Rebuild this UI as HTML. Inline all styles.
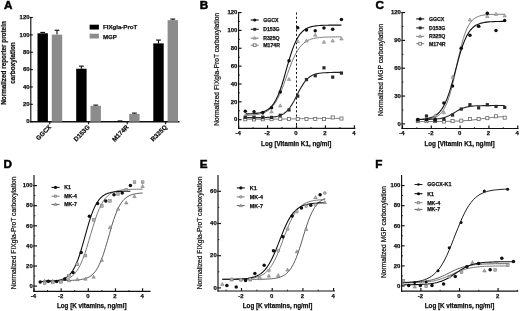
<!DOCTYPE html>
<html><head><meta charset="utf-8"><title>Figure</title>
<style>html,body{margin:0;padding:0;background:#fff}svg{display:block;filter:blur(0.3px)}</style></head>
<body>
<svg width="520" height="311" viewBox="0 0 520 311" font-family="Liberation Sans, Arial, sans-serif" font-weight="bold">
<rect width="520" height="311" fill="#fff"/>
<text x="3.90" y="9.30" font-size="11.7" text-anchor="start" fill="#000" stroke="#000" stroke-width="0.5">A</text>
<text x="199.70" y="8.70" font-size="11.7" text-anchor="start" fill="#000" stroke="#000" stroke-width="0.5">B</text>
<text x="375.50" y="8.90" font-size="11.7" text-anchor="start" fill="#000" stroke="#000" stroke-width="0.5">C</text>
<text x="3.40" y="167.60" font-size="11.7" text-anchor="start" fill="#000" stroke="#000" stroke-width="0.5">D</text>
<text x="199.80" y="167.50" font-size="11.7" text-anchor="start" fill="#000" stroke="#000" stroke-width="0.5">E</text>
<text x="375.30" y="167.50" font-size="11.7" text-anchor="start" fill="#000" stroke="#000" stroke-width="0.5">F</text>
<line x1="30.80" y1="16.93" x2="30.80" y2="122.28" stroke="#111" stroke-width="1.15"/>
<line x1="29.80" y1="121.70" x2="32.80" y2="121.70" stroke="#111" stroke-width="1.15"/>
<text x="29.50" y="123.45" font-size="5.95" text-anchor="end" fill="#111" stroke="#111" stroke-width="0.25">0</text>
<line x1="29.80" y1="104.33" x2="32.80" y2="104.33" stroke="#111" stroke-width="1.15"/>
<text x="29.50" y="106.08" font-size="5.95" text-anchor="end" fill="#111" stroke="#111" stroke-width="0.25">20</text>
<line x1="29.80" y1="86.97" x2="32.80" y2="86.97" stroke="#111" stroke-width="1.15"/>
<text x="29.50" y="88.72" font-size="5.95" text-anchor="end" fill="#111" stroke="#111" stroke-width="0.25">40</text>
<line x1="29.80" y1="69.60" x2="32.80" y2="69.60" stroke="#111" stroke-width="1.15"/>
<text x="29.50" y="71.35" font-size="5.95" text-anchor="end" fill="#111" stroke="#111" stroke-width="0.25">60</text>
<line x1="29.80" y1="52.24" x2="32.80" y2="52.24" stroke="#111" stroke-width="1.15"/>
<text x="29.50" y="53.99" font-size="5.95" text-anchor="end" fill="#111" stroke="#111" stroke-width="0.25">80</text>
<line x1="29.80" y1="34.87" x2="32.80" y2="34.87" stroke="#111" stroke-width="1.15"/>
<text x="29.50" y="36.62" font-size="5.95" text-anchor="end" fill="#111" stroke="#111" stroke-width="0.25">100</text>
<line x1="29.80" y1="17.50" x2="32.80" y2="17.50" stroke="#111" stroke-width="1.15"/>
<text x="29.50" y="19.25" font-size="5.95" text-anchor="end" fill="#111" stroke="#111" stroke-width="0.25">120</text>
<line x1="30.23" y1="121.70" x2="179.50" y2="121.70" stroke="#111" stroke-width="1.4"/>
<line x1="49.80" y1="121.70" x2="49.80" y2="124.30" stroke="#111" stroke-width="1.15"/>
<line x1="42.70" y1="33.31" x2="42.70" y2="32.44" stroke="#111" stroke-width="1.15"/>
<line x1="40.30" y1="32.44" x2="45.10" y2="32.44" stroke="#111" stroke-width="1.15"/>
<rect x="37.50" y="33.31" width="10.4" height="88.39" fill="#000"/>
<line x1="57.00" y1="34.61" x2="57.00" y2="30.27" stroke="#111" stroke-width="1.15"/>
<line x1="54.60" y1="30.27" x2="59.40" y2="30.27" stroke="#111" stroke-width="1.15"/>
<rect x="51.80" y="34.61" width="10.4" height="87.09" fill="#8c8c8c"/>
<text x="51.60" y="127.60" font-size="6.3" text-anchor="end" fill="#111" stroke="#111" stroke-width="0.25" transform="rotate(-45 51.60 127.60)">GGCX</text>
<line x1="88.50" y1="121.70" x2="88.50" y2="124.30" stroke="#111" stroke-width="1.15"/>
<line x1="81.40" y1="68.73" x2="81.40" y2="66.13" stroke="#111" stroke-width="1.15"/>
<line x1="79.00" y1="66.13" x2="83.80" y2="66.13" stroke="#111" stroke-width="1.15"/>
<rect x="76.20" y="68.73" width="10.4" height="52.97" fill="#000"/>
<line x1="95.70" y1="105.81" x2="95.70" y2="105.12" stroke="#111" stroke-width="1.15"/>
<line x1="93.30" y1="105.12" x2="98.10" y2="105.12" stroke="#111" stroke-width="1.15"/>
<rect x="90.50" y="105.81" width="10.4" height="15.89" fill="#8c8c8c"/>
<text x="90.30" y="127.60" font-size="6.3" text-anchor="end" fill="#111" stroke="#111" stroke-width="0.25" transform="rotate(-45 90.30 127.60)">D153G</text>
<line x1="127.20" y1="121.70" x2="127.20" y2="124.30" stroke="#111" stroke-width="1.15"/>
<line x1="120.10" y1="121.18" x2="120.10" y2="120.92" stroke="#111" stroke-width="1.15"/>
<line x1="117.70" y1="120.92" x2="122.50" y2="120.92" stroke="#111" stroke-width="1.15"/>
<rect x="114.90" y="121.18" width="10.4" height="0.52" fill="#000"/>
<line x1="134.40" y1="113.89" x2="134.40" y2="113.10" stroke="#111" stroke-width="1.15"/>
<line x1="132.00" y1="113.10" x2="136.80" y2="113.10" stroke="#111" stroke-width="1.15"/>
<rect x="129.20" y="113.89" width="10.4" height="7.81" fill="#8c8c8c"/>
<text x="129.00" y="127.60" font-size="6.3" text-anchor="end" fill="#111" stroke="#111" stroke-width="0.25" transform="rotate(-45 129.00 127.60)">M174R</text>
<line x1="165.60" y1="121.70" x2="165.60" y2="124.30" stroke="#111" stroke-width="1.15"/>
<line x1="158.50" y1="43.38" x2="158.50" y2="40.08" stroke="#111" stroke-width="1.15"/>
<line x1="156.10" y1="40.08" x2="160.90" y2="40.08" stroke="#111" stroke-width="1.15"/>
<rect x="153.30" y="43.38" width="10.4" height="78.32" fill="#000"/>
<line x1="172.80" y1="20.11" x2="172.80" y2="19.07" stroke="#111" stroke-width="1.15"/>
<line x1="170.40" y1="19.07" x2="175.20" y2="19.07" stroke="#111" stroke-width="1.15"/>
<rect x="167.60" y="20.11" width="10.4" height="101.59" fill="#8c8c8c"/>
<text x="167.40" y="127.60" font-size="6.3" text-anchor="end" fill="#111" stroke="#111" stroke-width="0.25" transform="rotate(-45 167.40 127.60)">R325Q</text>
<rect x="89.6" y="24.7" width="9.3" height="4.8" fill="#000"/>
<rect x="89.6" y="33.7" width="9.3" height="4.8" fill="#8c8c8c"/>
<text x="103.00" y="29.00" font-size="6.1" text-anchor="start" fill="#111" stroke="#111" stroke-width="0.25">FIXgla-ProT</text>
<text x="103.00" y="38.60" font-size="6.1" text-anchor="start" fill="#111" stroke="#111" stroke-width="0.25">MGP</text>
<text x="6.20" y="63.00" font-size="6.35" text-anchor="middle" fill="#111" stroke="#111" stroke-width="0.25" transform="rotate(-90 6.20 63.00)">Normalized reporter protein</text>
<text x="14.90" y="63.00" font-size="6.4" text-anchor="middle" fill="#111" stroke="#111" stroke-width="0.25" transform="rotate(-90 14.90 63.00)">carboxylation</text>
<line x1="296.50" y1="12.50" x2="296.50" y2="128.30" stroke="#111" stroke-width="1.0" stroke-dasharray="2.1 2.15"/>
<polyline points="245.8,119.2 247.8,119.2 249.8,119.2 251.8,119.2 253.8,119.2 255.8,119.2 257.8,119.2 259.8,119.2 261.8,119.2 263.8,119.2 265.7,119.2 267.7,119.2 269.7,119.2 271.7,119.1 273.7,119.1 275.7,119.1 277.7,119.1 279.7,119.1 281.7,119.1 283.7,119.1 285.6,119.0 287.6,119.0 289.6,119.0 291.6,118.9 293.6,118.9 295.6,118.8 297.6,118.7 299.6,118.7 301.6,118.6 303.6,118.6 305.5,118.5 307.5,118.5 309.5,118.5 311.5,118.4 313.5,118.4 315.5,118.4 317.5,118.4 319.5,118.4 321.5,118.4 323.5,118.4 325.4,118.4 327.4,118.4 329.4,118.4 331.4,118.4 333.4,118.4 335.4,118.4 337.4,118.4 339.4,118.4 341.4,118.4" fill="none" stroke="#747474" stroke-width="0.95" stroke-linejoin="round"/>
<polyline points="245.8,115.5 247.8,115.4 249.8,115.3 251.8,115.1 253.8,115.0 255.8,114.7 257.8,114.4 259.8,114.0 261.8,113.5 263.8,112.8 265.7,111.9 267.7,110.8 269.7,109.3 271.7,107.4 273.7,105.0 275.7,102.1 277.7,98.6 279.7,94.5 281.7,89.8 283.7,84.6 285.6,79.1 287.6,73.5 289.6,68.0 291.6,62.8 293.6,58.1 295.6,54.0 297.6,50.5 299.6,47.5 301.6,45.2 303.6,43.3 305.5,41.8 307.5,40.6 309.5,39.7 311.5,39.0 313.5,38.5 315.5,38.1 317.5,37.8 319.5,37.5 321.5,37.4 323.5,37.2 325.4,37.1 327.4,37.1 329.4,37.0 331.4,37.0 333.4,36.9 335.4,36.9 337.4,36.9 339.4,36.9 341.4,36.9" fill="none" stroke="#747474" stroke-width="0.95" stroke-linejoin="round"/>
<polyline points="245.8,117.6 247.8,117.6 249.8,117.6 251.8,117.6 253.8,117.6 255.8,117.6 257.8,117.6 259.8,117.6 261.8,117.6 263.8,117.5 265.7,117.5 267.7,117.4 269.7,117.3 271.7,117.1 273.7,116.9 275.7,116.6 277.7,116.2 279.7,115.6 281.7,114.8 283.7,113.7 285.6,112.3 287.6,110.4 289.6,108.0 291.6,105.1 293.6,101.7 295.6,97.9 297.6,94.0 299.6,90.1 301.6,86.6 303.6,83.4 305.5,80.8 307.5,78.6 309.5,77.0 311.5,75.7 313.5,74.8 315.5,74.1 317.5,73.6 319.5,73.3 321.5,73.0 323.5,72.8 325.4,72.7 327.4,72.6 329.4,72.5 331.4,72.5 333.4,72.4 335.4,72.4 337.4,72.4 339.4,72.4 341.4,72.4" fill="none" stroke="#222" stroke-width="1.1" stroke-linejoin="round"/>
<polyline points="245.8,113.9 247.8,113.9 249.8,113.8 251.8,113.7 253.8,113.6 255.8,113.4 257.8,113.1 259.8,112.8 261.8,112.3 263.8,111.7 265.7,110.8 267.7,109.7 269.7,108.2 271.7,106.2 273.7,103.6 275.7,100.3 277.7,96.2 279.7,91.2 281.7,85.5 283.7,79.0 285.6,72.1 287.6,65.1 289.6,58.3 291.6,52.0 293.6,46.4 295.6,41.7 297.6,37.8 299.6,34.7 301.6,32.3 303.6,30.5 305.5,29.1 307.5,28.0 309.5,27.2 311.5,26.6 313.5,26.2 315.5,25.9 317.5,25.7 319.5,25.5 321.5,25.4 323.5,25.3 325.4,25.2 327.4,25.2 329.4,25.1 331.4,25.1 333.4,25.1 335.4,25.1 337.4,25.1 339.4,25.1 341.4,25.1" fill="none" stroke="#111" stroke-width="1.1" stroke-linejoin="round"/>
<rect x="243.75" y="117.70" width="3.1" height="3.1" fill="#fff" stroke="#666" stroke-width="0.8"/>
<rect x="252.49" y="117.88" width="3.1" height="3.1" fill="#fff" stroke="#666" stroke-width="0.8"/>
<rect x="261.23" y="117.70" width="3.1" height="3.1" fill="#fff" stroke="#666" stroke-width="0.8"/>
<rect x="269.97" y="117.61" width="3.1" height="3.1" fill="#fff" stroke="#666" stroke-width="0.8"/>
<rect x="278.71" y="117.44" width="3.1" height="3.1" fill="#fff" stroke="#666" stroke-width="0.8"/>
<rect x="287.45" y="117.44" width="3.1" height="3.1" fill="#fff" stroke="#666" stroke-width="0.8"/>
<rect x="296.19" y="117.44" width="3.1" height="3.1" fill="#fff" stroke="#666" stroke-width="0.8"/>
<rect x="304.93" y="117.44" width="3.1" height="3.1" fill="#fff" stroke="#666" stroke-width="0.8"/>
<rect x="313.67" y="117.44" width="3.1" height="3.1" fill="#fff" stroke="#666" stroke-width="0.8"/>
<rect x="322.41" y="117.52" width="3.1" height="3.1" fill="#fff" stroke="#666" stroke-width="0.8"/>
<rect x="331.15" y="115.92" width="3.1" height="3.1" fill="#fff" stroke="#666" stroke-width="0.8"/>
<rect x="339.89" y="116.99" width="3.1" height="3.1" fill="#fff" stroke="#666" stroke-width="0.8"/>
<polygon points="245.30,113.52 243.55,116.67 247.05,116.67" fill="#b0b0b0" stroke="#707070" stroke-width="0.45"/>
<polygon points="254.04,113.52 252.29,116.67 255.79,116.67" fill="#b0b0b0" stroke="#707070" stroke-width="0.45"/>
<polygon points="262.78,113.34 261.03,116.50 264.53,116.50" fill="#b0b0b0" stroke="#707070" stroke-width="0.45"/>
<polygon points="271.52,109.86 269.77,113.01 273.27,113.01" fill="#b0b0b0" stroke="#707070" stroke-width="0.45"/>
<polygon points="280.26,103.79 278.51,106.94 282.01,106.94" fill="#b0b0b0" stroke="#707070" stroke-width="0.45"/>
<polygon points="289.00,77.36 287.25,80.51 290.75,80.51" fill="#b0b0b0" stroke="#707070" stroke-width="0.45"/>
<polygon points="297.74,39.49 295.99,42.64 299.49,42.64" fill="#b0b0b0" stroke="#707070" stroke-width="0.45"/>
<polygon points="306.48,38.96 304.73,42.11 308.23,42.11" fill="#b0b0b0" stroke="#707070" stroke-width="0.45"/>
<polygon points="315.22,33.15 313.47,36.30 316.97,36.30" fill="#b0b0b0" stroke="#707070" stroke-width="0.45"/>
<polygon points="323.96,40.21 322.21,43.36 325.71,43.36" fill="#b0b0b0" stroke="#707070" stroke-width="0.45"/>
<polygon points="332.70,38.96 330.95,42.11 334.45,42.11" fill="#b0b0b0" stroke="#707070" stroke-width="0.45"/>
<polygon points="341.44,36.90 339.69,40.05 343.19,40.05" fill="#b0b0b0" stroke="#707070" stroke-width="0.45"/>
<rect x="243.70" y="115.78" width="3.2" height="3.2" fill="#2a2a2a" stroke="#2a2a2a" stroke-width="0"/>
<rect x="252.44" y="115.96" width="3.2" height="3.2" fill="#2a2a2a" stroke="#2a2a2a" stroke-width="0"/>
<rect x="261.18" y="115.96" width="3.2" height="3.2" fill="#2a2a2a" stroke="#2a2a2a" stroke-width="0"/>
<rect x="269.92" y="115.78" width="3.2" height="3.2" fill="#2a2a2a" stroke="#2a2a2a" stroke-width="0"/>
<rect x="278.66" y="113.64" width="3.2" height="3.2" fill="#2a2a2a" stroke="#2a2a2a" stroke-width="0"/>
<rect x="287.40" y="108.37" width="3.2" height="3.2" fill="#2a2a2a" stroke="#2a2a2a" stroke-width="0"/>
<rect x="296.14" y="94.52" width="3.2" height="3.2" fill="#2a2a2a" stroke="#2a2a2a" stroke-width="0"/>
<rect x="304.88" y="78.00" width="3.2" height="3.2" fill="#2a2a2a" stroke="#2a2a2a" stroke-width="0"/>
<rect x="313.62" y="74.16" width="3.2" height="3.2" fill="#2a2a2a" stroke="#2a2a2a" stroke-width="0"/>
<rect x="322.36" y="66.22" width="3.2" height="3.2" fill="#2a2a2a" stroke="#2a2a2a" stroke-width="0"/>
<rect x="331.10" y="75.50" width="3.2" height="3.2" fill="#2a2a2a" stroke="#2a2a2a" stroke-width="0"/>
<rect x="339.84" y="71.49" width="3.2" height="3.2" fill="#2a2a2a" stroke="#2a2a2a" stroke-width="0"/>
<circle cx="245.30" cy="111.22" r="1.75" fill="#111" stroke="#111" stroke-width="0"/>
<circle cx="254.04" cy="111.75" r="1.75" fill="#111" stroke="#111" stroke-width="0"/>
<circle cx="262.78" cy="112.56" r="1.75" fill="#111" stroke="#111" stroke-width="0"/>
<circle cx="271.52" cy="107.73" r="1.75" fill="#111" stroke="#111" stroke-width="0"/>
<circle cx="280.26" cy="92.11" r="1.75" fill="#111" stroke="#111" stroke-width="0"/>
<circle cx="289.00" cy="60.76" r="1.75" fill="#111" stroke="#111" stroke-width="0"/>
<circle cx="297.74" cy="27.72" r="1.75" fill="#111" stroke="#111" stroke-width="0"/>
<circle cx="306.48" cy="30.04" r="1.75" fill="#111" stroke="#111" stroke-width="0"/>
<circle cx="315.22" cy="30.76" r="1.75" fill="#111" stroke="#111" stroke-width="0"/>
<circle cx="323.96" cy="28.08" r="1.75" fill="#111" stroke="#111" stroke-width="0"/>
<circle cx="332.70" cy="29.24" r="1.75" fill="#111" stroke="#111" stroke-width="0"/>
<circle cx="341.44" cy="19.51" r="1.75" fill="#111" stroke="#111" stroke-width="0"/>
<line x1="238.60" y1="11.93" x2="238.60" y2="128.88" stroke="#111" stroke-width="1.15"/>
<line x1="238.00" y1="119.70" x2="241.60" y2="119.70" stroke="#111" stroke-width="1.15"/>
<text x="237.30" y="121.45" font-size="5.95" text-anchor="end" fill="#111" stroke="#111" stroke-width="0.25">0</text>
<line x1="238.00" y1="101.84" x2="241.60" y2="101.84" stroke="#111" stroke-width="1.15"/>
<text x="237.30" y="103.59" font-size="5.95" text-anchor="end" fill="#111" stroke="#111" stroke-width="0.25">20</text>
<line x1="238.00" y1="83.98" x2="241.60" y2="83.98" stroke="#111" stroke-width="1.15"/>
<text x="237.30" y="85.73" font-size="5.95" text-anchor="end" fill="#111" stroke="#111" stroke-width="0.25">40</text>
<line x1="238.00" y1="66.12" x2="241.60" y2="66.12" stroke="#111" stroke-width="1.15"/>
<text x="237.30" y="67.87" font-size="5.95" text-anchor="end" fill="#111" stroke="#111" stroke-width="0.25">60</text>
<line x1="238.00" y1="48.26" x2="241.60" y2="48.26" stroke="#111" stroke-width="1.15"/>
<text x="237.30" y="50.01" font-size="5.95" text-anchor="end" fill="#111" stroke="#111" stroke-width="0.25">80</text>
<line x1="238.00" y1="30.40" x2="241.60" y2="30.40" stroke="#111" stroke-width="1.15"/>
<text x="237.30" y="32.15" font-size="5.95" text-anchor="end" fill="#111" stroke="#111" stroke-width="0.25">100</text>
<line x1="238.00" y1="12.54" x2="241.60" y2="12.54" stroke="#111" stroke-width="1.15"/>
<text x="237.30" y="14.29" font-size="5.95" text-anchor="end" fill="#111" stroke="#111" stroke-width="0.25">120</text>
<line x1="238.60" y1="110.77" x2="239.90" y2="110.77" stroke="#111" stroke-width="0.9199999999999999"/>
<line x1="238.60" y1="92.91" x2="239.90" y2="92.91" stroke="#111" stroke-width="0.9199999999999999"/>
<line x1="238.60" y1="75.05" x2="239.90" y2="75.05" stroke="#111" stroke-width="0.9199999999999999"/>
<line x1="238.60" y1="57.19" x2="239.90" y2="57.19" stroke="#111" stroke-width="0.9199999999999999"/>
<line x1="238.60" y1="39.33" x2="239.90" y2="39.33" stroke="#111" stroke-width="0.9199999999999999"/>
<line x1="238.60" y1="21.47" x2="239.90" y2="21.47" stroke="#111" stroke-width="0.9199999999999999"/>
<line x1="238.03" y1="128.30" x2="355.38" y2="128.30" stroke="#111" stroke-width="1.15"/>
<line x1="238.60" y1="128.30" x2="238.60" y2="125.30" stroke="#111" stroke-width="1.15"/>
<text x="238.10" y="135.10" font-size="5.95" text-anchor="middle" fill="#111" stroke="#111" stroke-width="0.25">-4</text>
<line x1="267.55" y1="128.30" x2="267.55" y2="125.30" stroke="#111" stroke-width="1.15"/>
<text x="267.05" y="135.10" font-size="5.95" text-anchor="middle" fill="#111" stroke="#111" stroke-width="0.25">-2</text>
<line x1="296.50" y1="128.30" x2="296.50" y2="125.30" stroke="#111" stroke-width="1.15"/>
<text x="296.00" y="135.10" font-size="5.95" text-anchor="middle" fill="#111" stroke="#111" stroke-width="0.25">0</text>
<line x1="325.45" y1="128.30" x2="325.45" y2="125.30" stroke="#111" stroke-width="1.15"/>
<text x="324.95" y="135.10" font-size="5.95" text-anchor="middle" fill="#111" stroke="#111" stroke-width="0.25">2</text>
<line x1="354.40" y1="128.30" x2="354.40" y2="125.30" stroke="#111" stroke-width="1.15"/>
<text x="353.90" y="135.10" font-size="5.95" text-anchor="middle" fill="#111" stroke="#111" stroke-width="0.25">4</text>
<line x1="253.07" y1="128.30" x2="253.07" y2="127.00" stroke="#111" stroke-width="0.9199999999999999"/>
<line x1="282.02" y1="128.30" x2="282.02" y2="127.00" stroke="#111" stroke-width="0.9199999999999999"/>
<line x1="310.98" y1="128.30" x2="310.98" y2="127.00" stroke="#111" stroke-width="0.9199999999999999"/>
<line x1="339.93" y1="128.30" x2="339.93" y2="127.00" stroke="#111" stroke-width="0.9199999999999999"/>
<line x1="250.70" y1="20.00" x2="258.70" y2="20.00" stroke="#111" stroke-width="1.1"/>
<circle cx="254.70" cy="20.00" r="1.575" fill="#111" stroke="#111" stroke-width="0"/>
<text x="263.20" y="21.90" font-size="5.2" text-anchor="start" fill="#111" stroke="#111" stroke-width="0.25">GGCX</text>
<line x1="250.70" y1="29.30" x2="258.70" y2="29.30" stroke="#222" stroke-width="1.1"/>
<rect x="253.26" y="27.86" width="2.8800000000000003" height="2.8800000000000003" fill="#2a2a2a" stroke="#2a2a2a" stroke-width="0"/>
<text x="263.20" y="31.20" font-size="5.2" text-anchor="start" fill="#111" stroke="#111" stroke-width="0.25">D153G</text>
<line x1="250.70" y1="38.10" x2="258.70" y2="38.10" stroke="#747474" stroke-width="0.95"/>
<polygon points="254.70,36.40 253.12,39.23 256.27,39.23" fill="#b0b0b0" stroke="#707070" stroke-width="0.45"/>
<text x="263.20" y="40.00" font-size="5.2" text-anchor="start" fill="#111" stroke="#111" stroke-width="0.25">R325Q</text>
<line x1="250.70" y1="45.20" x2="258.70" y2="45.20" stroke="#747474" stroke-width="0.95"/>
<rect x="253.30" y="43.80" width="2.79" height="2.79" fill="#fff" stroke="#666" stroke-width="0.8"/>
<text x="263.20" y="47.10" font-size="5.2" text-anchor="start" fill="#111" stroke="#111" stroke-width="0.25">M174R</text>
<text x="219.10" y="69.30" font-size="6.7" font-weight="normal" text-anchor="middle" fill="#111" stroke="#111" stroke-width="0.2" transform="rotate(-90 219.10 69.30)">Normalized FIXgla-ProT carboxylation</text>
<text x="296.20" y="146.20" font-size="6.3" text-anchor="middle" fill="#111" stroke="#111" stroke-width="0.25">Log [Vitamin K1, ng/ml]</text>
<polyline points="418.3,121.6 420.1,121.6 421.9,121.6 423.7,121.6 425.5,121.6 427.3,121.5 429.1,121.5 430.9,121.5 432.7,121.5 434.5,121.5 436.3,121.5 438.1,121.5 439.9,121.5 441.7,121.5 443.5,121.4 445.3,121.4 447.1,121.4 448.9,121.3 450.7,121.3 452.5,121.3 454.3,121.2 456.1,121.1 457.9,121.1 459.7,121.0 461.5,120.9 463.3,120.8 465.1,120.6 466.9,120.5 468.7,120.3 470.5,120.2 472.3,120.0 474.1,119.8 475.9,119.5 477.7,119.3 479.5,119.1 481.3,118.8 483.1,118.6 484.9,118.4 486.7,118.1 488.5,117.9 490.3,117.7 492.1,117.5 493.9,117.3 495.7,117.2 497.5,117.0 499.3,116.9 501.1,116.8 502.9,116.7 504.7,116.6" fill="none" stroke="#747474" stroke-width="0.95" stroke-linejoin="round"/>
<polyline points="418.3,119.6 420.1,119.5 421.9,119.5 423.7,119.4 425.5,119.3 427.3,119.1 429.1,118.9 430.9,118.6 432.7,118.1 434.5,117.6 436.3,116.8 438.1,115.7 439.9,114.3 441.7,112.4 443.5,109.9 445.3,106.7 447.1,102.7 448.9,97.7 450.7,91.6 452.5,84.6 454.3,76.9 456.1,68.6 457.9,60.3 459.7,52.3 461.5,45.0 463.3,38.6 465.1,33.2 466.9,28.7 468.7,25.2 470.5,22.4 472.3,20.3 474.1,18.7 475.9,17.6 477.7,16.7 479.5,16.0 481.3,15.5 483.1,15.2 484.9,14.9 486.7,14.7 488.5,14.6 490.3,14.5 492.1,14.4 493.9,14.4 495.7,14.3 497.5,14.3 499.3,14.3 501.1,14.3 502.9,14.2 504.7,14.2" fill="none" stroke="#747474" stroke-width="0.95" stroke-linejoin="round"/>
<polyline points="418.3,119.5 420.1,119.5 421.9,119.5 423.7,119.5 425.5,119.5 427.3,119.4 429.1,119.4 430.9,119.3 432.7,119.2 434.5,119.1 436.3,119.0 438.1,118.8 439.9,118.6 441.7,118.2 443.5,117.8 445.3,117.2 447.1,116.6 448.9,115.8 450.7,114.8 452.5,113.8 454.3,112.7 456.1,111.6 457.9,110.5 459.7,109.6 461.5,108.7 463.3,108.0 465.1,107.4 466.9,107.0 468.7,106.6 470.5,106.3 472.3,106.1 474.1,106.0 475.9,105.8 477.7,105.8 479.5,105.7 481.3,105.7 483.1,105.6 484.9,105.6 486.7,105.6 488.5,105.6 490.3,105.6 492.1,105.5 493.9,105.5 495.7,105.5 497.5,105.5 499.3,105.5 501.1,105.5 502.9,105.5 504.7,105.5" fill="none" stroke="#222" stroke-width="1.1" stroke-linejoin="round"/>
<polyline points="418.3,119.4 420.1,119.3 421.9,119.2 423.7,119.0 425.5,118.8 427.3,118.5 429.1,118.1 430.9,117.6 432.7,116.9 434.5,116.1 436.3,114.9 438.1,113.5 439.9,111.6 441.7,109.3 443.5,106.4 445.3,102.8 447.1,98.6 448.9,93.6 450.7,87.9 452.5,81.6 454.3,74.9 456.1,68.1 457.9,61.3 459.7,54.9 461.5,49.0 463.3,43.8 465.1,39.4 466.9,35.6 468.7,32.5 470.5,30.0 472.3,28.1 474.1,26.5 475.9,25.3 477.7,24.4 479.5,23.7 481.3,23.1 483.1,22.7 484.9,22.4 486.7,22.1 488.5,21.9 490.3,21.8 492.1,21.7 493.9,21.6 495.7,21.5 497.5,21.5 499.3,21.5 501.1,21.4 502.9,21.4 504.7,21.4" fill="none" stroke="#111" stroke-width="1.1" stroke-linejoin="round"/>
<rect x="416.25" y="119.57" width="3.1" height="3.1" fill="#fff" stroke="#666" stroke-width="0.8"/>
<rect x="424.94" y="119.57" width="3.1" height="3.1" fill="#fff" stroke="#666" stroke-width="0.8"/>
<rect x="433.63" y="119.57" width="3.1" height="3.1" fill="#fff" stroke="#666" stroke-width="0.8"/>
<rect x="442.32" y="119.94" width="3.1" height="3.1" fill="#fff" stroke="#666" stroke-width="0.8"/>
<rect x="451.01" y="119.57" width="3.1" height="3.1" fill="#fff" stroke="#666" stroke-width="0.8"/>
<rect x="459.70" y="119.10" width="3.1" height="3.1" fill="#fff" stroke="#666" stroke-width="0.8"/>
<rect x="468.39" y="117.43" width="3.1" height="3.1" fill="#fff" stroke="#666" stroke-width="0.8"/>
<rect x="477.08" y="117.43" width="3.1" height="3.1" fill="#fff" stroke="#666" stroke-width="0.8"/>
<rect x="485.77" y="116.60" width="3.1" height="3.1" fill="#fff" stroke="#666" stroke-width="0.8"/>
<rect x="494.46" y="114.74" width="3.1" height="3.1" fill="#fff" stroke="#666" stroke-width="0.8"/>
<rect x="503.15" y="116.13" width="3.1" height="3.1" fill="#fff" stroke="#666" stroke-width="0.8"/>
<polygon points="417.80,117.83 416.05,120.98 419.55,120.98" fill="#b0b0b0" stroke="#707070" stroke-width="0.45"/>
<polygon points="426.49,117.83 424.74,120.98 428.24,120.98" fill="#b0b0b0" stroke="#707070" stroke-width="0.45"/>
<polygon points="435.18,113.66 433.43,116.81 436.93,116.81" fill="#b0b0b0" stroke="#707070" stroke-width="0.45"/>
<polygon points="443.87,110.60 442.12,113.75 445.62,113.75" fill="#b0b0b0" stroke="#707070" stroke-width="0.45"/>
<polygon points="452.56,75.15 450.81,78.30 454.31,78.30" fill="#b0b0b0" stroke="#707070" stroke-width="0.45"/>
<polygon points="461.25,45.91 459.50,49.06 463.00,49.06" fill="#b0b0b0" stroke="#707070" stroke-width="0.45"/>
<polygon points="469.94,17.89 468.19,21.04 471.69,21.04" fill="#b0b0b0" stroke="#707070" stroke-width="0.45"/>
<polygon points="478.63,24.11 476.88,27.26 480.38,27.26" fill="#b0b0b0" stroke="#707070" stroke-width="0.45"/>
<polygon points="487.32,14.36 485.57,17.51 489.07,17.51" fill="#b0b0b0" stroke="#707070" stroke-width="0.45"/>
<polygon points="496.01,12.23 494.26,15.38 497.76,15.38" fill="#b0b0b0" stroke="#707070" stroke-width="0.45"/>
<polygon points="504.70,13.90 502.95,17.05 506.45,17.05" fill="#b0b0b0" stroke="#707070" stroke-width="0.45"/>
<rect x="416.20" y="118.40" width="3.2" height="3.2" fill="#2a2a2a" stroke="#2a2a2a" stroke-width="0"/>
<rect x="424.89" y="114.41" width="3.2" height="3.2" fill="#2a2a2a" stroke="#2a2a2a" stroke-width="0"/>
<rect x="433.58" y="119.14" width="3.2" height="3.2" fill="#2a2a2a" stroke="#2a2a2a" stroke-width="0"/>
<rect x="442.27" y="117.66" width="3.2" height="3.2" fill="#2a2a2a" stroke="#2a2a2a" stroke-width="0"/>
<rect x="450.96" y="113.48" width="3.2" height="3.2" fill="#2a2a2a" stroke="#2a2a2a" stroke-width="0"/>
<rect x="459.65" y="107.45" width="3.2" height="3.2" fill="#2a2a2a" stroke="#2a2a2a" stroke-width="0"/>
<rect x="468.34" y="103.09" width="3.2" height="3.2" fill="#2a2a2a" stroke="#2a2a2a" stroke-width="0"/>
<rect x="477.03" y="106.25" width="3.2" height="3.2" fill="#2a2a2a" stroke="#2a2a2a" stroke-width="0"/>
<rect x="485.72" y="103.09" width="3.2" height="3.2" fill="#2a2a2a" stroke="#2a2a2a" stroke-width="0"/>
<rect x="494.41" y="104.85" width="3.2" height="3.2" fill="#2a2a2a" stroke="#2a2a2a" stroke-width="0"/>
<rect x="503.10" y="105.78" width="3.2" height="3.2" fill="#2a2a2a" stroke="#2a2a2a" stroke-width="0"/>
<circle cx="417.80" cy="119.45" r="1.75" fill="#111" stroke="#111" stroke-width="0"/>
<circle cx="426.49" cy="119.72" r="1.75" fill="#111" stroke="#111" stroke-width="0"/>
<circle cx="435.18" cy="119.26" r="1.75" fill="#111" stroke="#111" stroke-width="0"/>
<circle cx="443.87" cy="103.02" r="1.75" fill="#111" stroke="#111" stroke-width="0"/>
<circle cx="452.56" cy="86.04" r="1.75" fill="#111" stroke="#111" stroke-width="0"/>
<circle cx="461.25" cy="48.27" r="1.75" fill="#111" stroke="#111" stroke-width="0"/>
<circle cx="469.94" cy="35.28" r="1.75" fill="#111" stroke="#111" stroke-width="0"/>
<circle cx="478.63" cy="26.18" r="1.75" fill="#111" stroke="#111" stroke-width="0"/>
<circle cx="487.32" cy="13.19" r="1.75" fill="#111" stroke="#111" stroke-width="0"/>
<circle cx="496.01" cy="30.54" r="1.75" fill="#111" stroke="#111" stroke-width="0"/>
<circle cx="504.70" cy="20.52" r="1.75" fill="#111" stroke="#111" stroke-width="0"/>
<line x1="402.10" y1="12.03" x2="402.10" y2="129.07" stroke="#111" stroke-width="1.15"/>
<line x1="401.50" y1="123.90" x2="405.10" y2="123.90" stroke="#111" stroke-width="1.15"/>
<text x="400.80" y="125.65" font-size="5.95" text-anchor="end" fill="#111" stroke="#111" stroke-width="0.25">0</text>
<line x1="401.50" y1="96.06" x2="405.10" y2="96.06" stroke="#111" stroke-width="1.15"/>
<text x="400.80" y="97.81" font-size="5.95" text-anchor="end" fill="#111" stroke="#111" stroke-width="0.25">30</text>
<line x1="401.50" y1="68.22" x2="405.10" y2="68.22" stroke="#111" stroke-width="1.15"/>
<text x="400.80" y="69.97" font-size="5.95" text-anchor="end" fill="#111" stroke="#111" stroke-width="0.25">60</text>
<line x1="401.50" y1="40.38" x2="405.10" y2="40.38" stroke="#111" stroke-width="1.15"/>
<text x="400.80" y="42.13" font-size="5.95" text-anchor="end" fill="#111" stroke="#111" stroke-width="0.25">90</text>
<line x1="401.50" y1="12.54" x2="405.10" y2="12.54" stroke="#111" stroke-width="1.15"/>
<text x="400.80" y="14.29" font-size="5.95" text-anchor="end" fill="#111" stroke="#111" stroke-width="0.25">120</text>
<line x1="402.10" y1="109.98" x2="403.40" y2="109.98" stroke="#111" stroke-width="0.9199999999999999"/>
<line x1="402.10" y1="82.14" x2="403.40" y2="82.14" stroke="#111" stroke-width="0.9199999999999999"/>
<line x1="402.10" y1="54.30" x2="403.40" y2="54.30" stroke="#111" stroke-width="0.9199999999999999"/>
<line x1="402.10" y1="26.46" x2="403.40" y2="26.46" stroke="#111" stroke-width="0.9199999999999999"/>
<line x1="401.53" y1="128.50" x2="518.58" y2="128.50" stroke="#111" stroke-width="1.15"/>
<line x1="402.50" y1="128.50" x2="402.50" y2="125.50" stroke="#111" stroke-width="1.15"/>
<text x="402.00" y="135.30" font-size="5.95" text-anchor="middle" fill="#111" stroke="#111" stroke-width="0.25">-4</text>
<line x1="431.30" y1="128.50" x2="431.30" y2="125.50" stroke="#111" stroke-width="1.15"/>
<text x="430.80" y="135.30" font-size="5.95" text-anchor="middle" fill="#111" stroke="#111" stroke-width="0.25">-2</text>
<line x1="460.10" y1="128.50" x2="460.10" y2="125.50" stroke="#111" stroke-width="1.15"/>
<text x="459.60" y="135.30" font-size="5.95" text-anchor="middle" fill="#111" stroke="#111" stroke-width="0.25">0</text>
<line x1="488.90" y1="128.50" x2="488.90" y2="125.50" stroke="#111" stroke-width="1.15"/>
<text x="488.40" y="135.30" font-size="5.95" text-anchor="middle" fill="#111" stroke="#111" stroke-width="0.25">2</text>
<line x1="517.70" y1="128.50" x2="517.70" y2="125.50" stroke="#111" stroke-width="1.15"/>
<text x="517.20" y="135.30" font-size="5.95" text-anchor="middle" fill="#111" stroke="#111" stroke-width="0.25">4</text>
<line x1="416.90" y1="128.50" x2="416.90" y2="127.20" stroke="#111" stroke-width="0.9199999999999999"/>
<line x1="445.70" y1="128.50" x2="445.70" y2="127.20" stroke="#111" stroke-width="0.9199999999999999"/>
<line x1="474.50" y1="128.50" x2="474.50" y2="127.20" stroke="#111" stroke-width="0.9199999999999999"/>
<line x1="503.30" y1="128.50" x2="503.30" y2="127.20" stroke="#111" stroke-width="0.9199999999999999"/>
<line x1="416.20" y1="18.90" x2="424.20" y2="18.90" stroke="#111" stroke-width="1.1"/>
<circle cx="420.20" cy="18.90" r="1.575" fill="#111" stroke="#111" stroke-width="0"/>
<text x="428.90" y="20.80" font-size="5.2" text-anchor="start" fill="#111" stroke="#111" stroke-width="0.25">GGCX</text>
<line x1="416.20" y1="27.90" x2="424.20" y2="27.90" stroke="#222" stroke-width="1.1"/>
<rect x="418.76" y="26.46" width="2.8800000000000003" height="2.8800000000000003" fill="#2a2a2a" stroke="#2a2a2a" stroke-width="0"/>
<text x="428.90" y="29.80" font-size="5.2" text-anchor="start" fill="#111" stroke="#111" stroke-width="0.25">D153G</text>
<line x1="416.20" y1="36.30" x2="424.20" y2="36.30" stroke="#747474" stroke-width="0.95"/>
<polygon points="420.20,34.60 418.62,37.43 421.77,37.43" fill="#b0b0b0" stroke="#707070" stroke-width="0.45"/>
<text x="428.90" y="38.20" font-size="5.2" text-anchor="start" fill="#111" stroke="#111" stroke-width="0.25">R325Q</text>
<line x1="416.20" y1="43.70" x2="424.20" y2="43.70" stroke="#747474" stroke-width="0.95"/>
<rect x="418.81" y="42.30" width="2.79" height="2.79" fill="#fff" stroke="#666" stroke-width="0.8"/>
<text x="428.90" y="45.60" font-size="5.2" text-anchor="start" fill="#111" stroke="#111" stroke-width="0.25">M174R</text>
<text x="383.20" y="69.85" font-size="6.7" font-weight="normal" text-anchor="middle" fill="#111" stroke="#111" stroke-width="0.2" transform="rotate(-90 383.20 69.85)">Normalized MGP carboxylation</text>
<text x="459.50" y="146.20" font-size="6.3" text-anchor="middle" fill="#111" stroke="#111" stroke-width="0.25">Log [Vitamin K1, ng/ml]</text>
<polyline points="43.5,280.6 45.6,280.6 47.6,280.6 49.7,280.6 51.7,280.6 53.8,280.6 55.9,280.6 57.9,280.5 60.0,280.5 62.1,280.5 64.1,280.5 66.2,280.5 68.3,280.4 70.3,280.4 72.4,280.3 74.5,280.2 76.5,280.1 78.6,279.9 80.7,279.6 82.7,279.2 84.8,278.7 86.9,278.0 88.9,277.1 91.0,275.8 93.1,274.0 95.1,271.7 97.2,268.6 99.2,264.8 101.3,260.0 103.4,254.3 105.4,247.8 107.5,240.7 109.6,233.4 111.6,226.3 113.7,219.7 115.8,213.9 117.8,209.0 119.9,205.0 122.0,201.9 124.0,199.5 126.1,197.6 128.2,196.3 130.2,195.3 132.3,194.5 134.4,194.0 136.4,193.6 138.5,193.4 140.6,193.1 142.6,193.0" fill="none" stroke="#555" stroke-width="0.95" stroke-linejoin="round"/>
<polyline points="43.5,282.0 45.6,282.0 47.6,281.9 49.7,281.8 51.7,281.8 53.8,281.7 55.9,281.5 57.9,281.3 60.0,281.0 62.1,280.7 64.1,280.2 66.2,279.5 68.3,278.6 70.3,277.5 72.4,275.9 74.5,273.9 76.5,271.4 78.6,268.1 80.7,264.1 82.7,259.3 84.8,253.6 86.9,247.3 88.9,240.4 91.0,233.4 93.1,226.4 95.1,219.9 97.2,213.9 99.2,208.8 101.3,204.5 103.4,201.0 105.4,198.2 107.5,196.0 109.6,194.3 111.6,193.0 113.7,192.0 115.8,191.2 117.8,190.7 119.9,190.3 122.0,190.0 124.0,189.8 126.1,189.6 128.2,189.5 130.2,189.4 132.3,189.3 134.4,189.3 136.4,189.2 138.5,189.2 140.6,189.2 142.6,189.2" fill="none" stroke="#747474" stroke-width="0.95" stroke-linejoin="round"/>
<polyline points="40.8,281.5 42.6,281.5 44.5,281.4 46.4,281.4 48.2,281.3 50.1,281.3 52.0,281.1 53.8,281.0 55.7,280.8 57.6,280.5 59.4,280.1 61.3,279.6 63.2,279.0 65.0,278.1 66.9,276.9 68.8,275.4 70.6,273.5 72.5,271.0 74.4,267.8 76.2,263.9 78.1,259.3 80.0,253.8 81.8,247.7 83.7,241.2 85.6,234.4 87.5,227.7 89.3,221.4 91.2,215.6 93.1,210.6 94.9,206.4 96.8,203.0 98.7,200.2 100.5,198.0 102.4,196.3 104.3,195.0 106.1,194.1 108.0,193.3 109.9,192.8 111.7,192.3 113.6,192.0 115.5,191.8 117.3,191.6 119.2,191.5 121.1,191.4 122.9,191.3 124.8,191.3 126.7,191.2 128.5,191.2 130.4,191.2" fill="none" stroke="#111" stroke-width="1.1" stroke-linejoin="round"/>
<polygon points="44.60,279.19 42.85,282.34 46.35,282.34" fill="#a4a4a4" stroke="#707070" stroke-width="0.45"/>
<polygon points="52.77,279.19 51.02,282.34 54.52,282.34" fill="#a4a4a4" stroke="#707070" stroke-width="0.45"/>
<polygon points="60.94,279.19 59.19,282.34 62.69,282.34" fill="#a4a4a4" stroke="#707070" stroke-width="0.45"/>
<polygon points="69.11,278.68 67.36,281.83 70.86,281.83" fill="#a4a4a4" stroke="#707070" stroke-width="0.45"/>
<polygon points="77.28,277.58 75.53,280.73 79.03,280.73" fill="#a4a4a4" stroke="#707070" stroke-width="0.45"/>
<polygon points="85.45,277.07 83.70,280.22 87.20,280.22" fill="#a4a4a4" stroke="#707070" stroke-width="0.45"/>
<polygon points="93.62,275.06 91.87,278.21 95.37,278.21" fill="#a4a4a4" stroke="#707070" stroke-width="0.45"/>
<polygon points="101.79,258.28 100.04,261.43 103.54,261.43" fill="#a4a4a4" stroke="#707070" stroke-width="0.45"/>
<polygon points="109.96,225.52 108.21,228.67 111.71,228.67" fill="#a4a4a4" stroke="#707070" stroke-width="0.45"/>
<polygon points="118.13,207.13 116.38,210.28 119.88,210.28" fill="#a4a4a4" stroke="#707070" stroke-width="0.45"/>
<polygon points="126.30,200.90 124.55,204.05 128.05,204.05" fill="#a4a4a4" stroke="#707070" stroke-width="0.45"/>
<polygon points="134.47,194.56 132.72,197.71 136.22,197.71" fill="#a4a4a4" stroke="#707070" stroke-width="0.45"/>
<polygon points="142.64,184.51 140.89,187.66 144.39,187.66" fill="#a4a4a4" stroke="#707070" stroke-width="0.45"/>
<rect x="43.20" y="281.79" width="2.8" height="2.8" fill="#b0b0b0" stroke="#707070" stroke-width="0.45"/>
<rect x="51.37" y="281.08" width="2.8" height="2.8" fill="#b0b0b0" stroke="#707070" stroke-width="0.45"/>
<rect x="59.54" y="280.58" width="2.8" height="2.8" fill="#b0b0b0" stroke="#707070" stroke-width="0.45"/>
<rect x="67.71" y="274.25" width="2.8" height="2.8" fill="#b0b0b0" stroke="#707070" stroke-width="0.45"/>
<rect x="75.88" y="262.99" width="2.8" height="2.8" fill="#b0b0b0" stroke="#707070" stroke-width="0.45"/>
<rect x="84.05" y="254.15" width="2.8" height="2.8" fill="#b0b0b0" stroke="#707070" stroke-width="0.45"/>
<rect x="92.22" y="218.47" width="2.8" height="2.8" fill="#b0b0b0" stroke="#707070" stroke-width="0.45"/>
<rect x="100.39" y="204.60" width="2.8" height="2.8" fill="#b0b0b0" stroke="#707070" stroke-width="0.45"/>
<rect x="108.56" y="199.58" width="2.8" height="2.8" fill="#b0b0b0" stroke="#707070" stroke-width="0.45"/>
<rect x="116.73" y="192.54" width="2.8" height="2.8" fill="#b0b0b0" stroke="#707070" stroke-width="0.45"/>
<rect x="124.90" y="188.22" width="2.8" height="2.8" fill="#b0b0b0" stroke="#707070" stroke-width="0.45"/>
<rect x="133.07" y="180.78" width="2.8" height="2.8" fill="#b0b0b0" stroke="#707070" stroke-width="0.45"/>
<rect x="141.24" y="180.78" width="2.8" height="2.8" fill="#b0b0b0" stroke="#707070" stroke-width="0.45"/>
<circle cx="40.20" cy="281.98" r="1.75" fill="#111" stroke="#111" stroke-width="0"/>
<circle cx="48.40" cy="281.18" r="1.75" fill="#111" stroke="#111" stroke-width="0"/>
<circle cx="56.60" cy="281.48" r="1.75" fill="#111" stroke="#111" stroke-width="0"/>
<circle cx="64.80" cy="278.96" r="1.75" fill="#111" stroke="#111" stroke-width="0"/>
<circle cx="73.00" cy="272.43" r="1.75" fill="#111" stroke="#111" stroke-width="0"/>
<circle cx="81.20" cy="252.53" r="1.75" fill="#111" stroke="#111" stroke-width="0"/>
<circle cx="89.40" cy="216.15" r="1.75" fill="#111" stroke="#111" stroke-width="0"/>
<circle cx="97.60" cy="203.49" r="1.75" fill="#111" stroke="#111" stroke-width="0"/>
<circle cx="105.80" cy="200.98" r="1.75" fill="#111" stroke="#111" stroke-width="0"/>
<circle cx="114.00" cy="194.65" r="1.75" fill="#111" stroke="#111" stroke-width="0"/>
<circle cx="122.20" cy="192.94" r="1.75" fill="#111" stroke="#111" stroke-width="0"/>
<circle cx="130.40" cy="185.40" r="1.75" fill="#111" stroke="#111" stroke-width="0"/>
<line x1="34.00" y1="174.93" x2="34.00" y2="291.88" stroke="#111" stroke-width="1.15"/>
<line x1="33.40" y1="286.10" x2="37.00" y2="286.10" stroke="#111" stroke-width="1.15"/>
<text x="32.70" y="287.85" font-size="5.95" text-anchor="end" fill="#111" stroke="#111" stroke-width="0.25">0</text>
<line x1="33.40" y1="266.00" x2="37.00" y2="266.00" stroke="#111" stroke-width="1.15"/>
<text x="32.70" y="267.75" font-size="5.95" text-anchor="end" fill="#111" stroke="#111" stroke-width="0.25">20</text>
<line x1="33.40" y1="245.90" x2="37.00" y2="245.90" stroke="#111" stroke-width="1.15"/>
<text x="32.70" y="247.65" font-size="5.95" text-anchor="end" fill="#111" stroke="#111" stroke-width="0.25">40</text>
<line x1="33.40" y1="225.80" x2="37.00" y2="225.80" stroke="#111" stroke-width="1.15"/>
<text x="32.70" y="227.55" font-size="5.95" text-anchor="end" fill="#111" stroke="#111" stroke-width="0.25">60</text>
<line x1="33.40" y1="205.70" x2="37.00" y2="205.70" stroke="#111" stroke-width="1.15"/>
<text x="32.70" y="207.45" font-size="5.95" text-anchor="end" fill="#111" stroke="#111" stroke-width="0.25">80</text>
<line x1="33.40" y1="185.60" x2="37.00" y2="185.60" stroke="#111" stroke-width="1.15"/>
<text x="32.70" y="187.35" font-size="5.95" text-anchor="end" fill="#111" stroke="#111" stroke-width="0.25">100</text>
<line x1="34.00" y1="276.05" x2="35.30" y2="276.05" stroke="#111" stroke-width="0.9199999999999999"/>
<line x1="34.00" y1="255.95" x2="35.30" y2="255.95" stroke="#111" stroke-width="0.9199999999999999"/>
<line x1="34.00" y1="235.85" x2="35.30" y2="235.85" stroke="#111" stroke-width="0.9199999999999999"/>
<line x1="34.00" y1="215.75" x2="35.30" y2="215.75" stroke="#111" stroke-width="0.9199999999999999"/>
<line x1="34.00" y1="195.65" x2="35.30" y2="195.65" stroke="#111" stroke-width="0.9199999999999999"/>
<line x1="33.42" y1="291.30" x2="150.57" y2="291.30" stroke="#111" stroke-width="1.15"/>
<line x1="33.98" y1="291.30" x2="33.98" y2="288.30" stroke="#111" stroke-width="1.15"/>
<text x="33.48" y="298.10" font-size="5.95" text-anchor="middle" fill="#111" stroke="#111" stroke-width="0.25">-4</text>
<line x1="61.14" y1="291.30" x2="61.14" y2="288.30" stroke="#111" stroke-width="1.15"/>
<text x="60.64" y="298.10" font-size="5.95" text-anchor="middle" fill="#111" stroke="#111" stroke-width="0.25">-2</text>
<line x1="88.30" y1="291.30" x2="88.30" y2="288.30" stroke="#111" stroke-width="1.15"/>
<text x="87.80" y="298.10" font-size="5.95" text-anchor="middle" fill="#111" stroke="#111" stroke-width="0.25">0</text>
<line x1="115.46" y1="291.30" x2="115.46" y2="288.30" stroke="#111" stroke-width="1.15"/>
<text x="114.96" y="298.10" font-size="5.95" text-anchor="middle" fill="#111" stroke="#111" stroke-width="0.25">2</text>
<line x1="142.62" y1="291.30" x2="142.62" y2="288.30" stroke="#111" stroke-width="1.15"/>
<text x="142.12" y="298.10" font-size="5.95" text-anchor="middle" fill="#111" stroke="#111" stroke-width="0.25">4</text>
<line x1="47.56" y1="291.30" x2="47.56" y2="290.00" stroke="#111" stroke-width="0.9199999999999999"/>
<line x1="74.72" y1="291.30" x2="74.72" y2="290.00" stroke="#111" stroke-width="0.9199999999999999"/>
<line x1="101.88" y1="291.30" x2="101.88" y2="290.00" stroke="#111" stroke-width="0.9199999999999999"/>
<line x1="129.04" y1="291.30" x2="129.04" y2="290.00" stroke="#111" stroke-width="0.9199999999999999"/>
<line x1="51.50" y1="187.40" x2="59.50" y2="187.40" stroke="#111" stroke-width="1.1"/>
<circle cx="55.50" cy="187.40" r="1.575" fill="#111" stroke="#111" stroke-width="0"/>
<text x="64.30" y="189.30" font-size="5.2" text-anchor="start" fill="#111" stroke="#111" stroke-width="0.25">K1</text>
<line x1="51.50" y1="196.20" x2="59.50" y2="196.20" stroke="#747474" stroke-width="0.95"/>
<rect x="54.24" y="194.94" width="2.52" height="2.52" fill="#b0b0b0" stroke="#707070" stroke-width="0.45"/>
<text x="64.30" y="198.10" font-size="5.2" text-anchor="start" fill="#111" stroke="#111" stroke-width="0.25">MK-4</text>
<line x1="51.50" y1="204.40" x2="59.50" y2="204.40" stroke="#555" stroke-width="0.95"/>
<polygon points="55.50,202.70 53.92,205.53 57.08,205.53" fill="#a4a4a4" stroke="#707070" stroke-width="0.45"/>
<text x="64.30" y="206.30" font-size="5.2" text-anchor="start" fill="#111" stroke="#111" stroke-width="0.25">MK-7</text>
<text x="16.00" y="232.90" font-size="6.7" font-weight="normal" text-anchor="middle" fill="#111" stroke="#111" stroke-width="0.2" transform="rotate(-90 16.00 232.90)">Normalized FIXgla-ProT carboxylation</text>
<text x="91.70" y="307.60" font-size="6.3" text-anchor="middle" fill="#111" stroke="#111" stroke-width="0.25">Log [K vitamins, ng/ml]</text>
<polyline points="222.3,279.4 224.5,279.4 226.6,279.4 228.7,279.4 230.9,279.4 233.0,279.4 235.2,279.4 237.3,279.4 239.5,279.4 241.6,279.4 243.7,279.4 245.9,279.4 248.0,279.4 250.2,279.3 252.3,279.3 254.5,279.3 256.6,279.3 258.7,279.3 260.9,279.3 263.0,279.2 265.2,279.1 267.3,279.1 269.4,278.9 271.6,278.8 273.7,278.5 275.9,278.2 278.0,277.7 280.2,277.1 282.3,276.2 284.4,275.1 286.6,273.4 288.7,271.3 290.9,268.5 293.0,264.9 295.2,260.4 297.3,255.0 299.4,248.8 301.6,242.0 303.7,235.0 305.9,228.2 308.0,221.8 310.2,216.2 312.3,211.6 314.4,207.8 316.6,204.8 318.7,202.5 320.9,200.8 323.0,199.5 325.2,198.6" fill="none" stroke="#555" stroke-width="0.95" stroke-linejoin="round"/>
<polyline points="222.3,279.3 224.5,279.3 226.6,279.3 228.7,279.3 230.9,279.3 233.0,279.3 235.2,279.2 237.3,279.2 239.5,279.2 241.6,279.1 243.7,279.0 245.9,278.9 248.0,278.7 250.2,278.5 252.3,278.2 254.5,277.8 256.6,277.2 258.7,276.5 260.9,275.6 263.0,274.5 265.2,273.0 267.3,271.0 269.4,268.6 271.6,265.6 273.7,262.0 275.9,257.8 278.0,252.9 280.2,247.6 282.3,241.9 284.4,236.1 286.6,230.5 288.7,225.2 290.9,220.4 293.0,216.2 295.2,212.7 297.3,209.8 299.4,207.4 301.6,205.6 303.7,204.1 305.9,203.0 308.0,202.1 310.2,201.4 312.3,200.9 314.4,200.5 316.6,200.2 318.7,200.0 320.9,199.8 323.0,199.7 325.2,199.6" fill="none" stroke="#747474" stroke-width="0.95" stroke-linejoin="round"/>
<polyline points="222.3,279.3 224.5,279.3 226.6,279.3 228.7,279.3 230.9,279.3 233.0,279.2 235.2,279.2 237.3,279.1 239.5,279.0 241.6,278.9 243.7,278.8 245.9,278.5 248.0,278.3 250.2,277.9 252.3,277.4 254.5,276.8 256.6,276.0 258.7,274.9 260.9,273.6 263.0,271.8 265.2,269.6 267.3,266.8 269.4,263.5 271.6,259.5 273.7,255.0 275.9,250.0 278.0,244.6 280.2,239.0 282.3,233.6 284.4,228.4 286.6,223.7 288.7,219.6 290.9,216.0 293.0,213.1 295.2,210.8 297.3,208.9 299.4,207.4 301.6,206.2 303.7,205.3 305.9,204.7 308.0,204.2 310.2,203.8 312.3,203.5 314.4,203.2 316.6,203.1 318.7,202.9 320.9,202.9 323.0,202.8 325.2,202.7" fill="none" stroke="#111" stroke-width="1.1" stroke-linejoin="round"/>
<polygon points="222.30,282.47 220.55,285.62 224.05,285.62" fill="#a4a4a4" stroke="#707070" stroke-width="0.45"/>
<polygon points="231.62,277.96 229.87,281.11 233.37,281.11" fill="#a4a4a4" stroke="#707070" stroke-width="0.45"/>
<polygon points="240.94,277.96 239.19,281.11 242.69,281.11" fill="#a4a4a4" stroke="#707070" stroke-width="0.45"/>
<polygon points="250.26,277.96 248.51,281.11 252.01,281.11" fill="#a4a4a4" stroke="#707070" stroke-width="0.45"/>
<polygon points="259.58,276.35 257.83,279.50 261.33,279.50" fill="#a4a4a4" stroke="#707070" stroke-width="0.45"/>
<polygon points="268.90,274.10 267.15,277.25 270.65,277.25" fill="#a4a4a4" stroke="#707070" stroke-width="0.45"/>
<polygon points="278.22,273.61 276.47,276.76 279.97,276.76" fill="#a4a4a4" stroke="#707070" stroke-width="0.45"/>
<polygon points="287.54,267.98 285.79,271.13 289.29,271.13" fill="#a4a4a4" stroke="#707070" stroke-width="0.45"/>
<polygon points="296.86,249.78 295.11,252.93 298.61,252.93" fill="#a4a4a4" stroke="#707070" stroke-width="0.45"/>
<polygon points="306.18,227.25 304.43,230.39 307.93,230.39" fill="#a4a4a4" stroke="#707070" stroke-width="0.45"/>
<polygon points="315.50,195.53 313.75,198.68 317.25,198.68" fill="#a4a4a4" stroke="#707070" stroke-width="0.45"/>
<polygon points="324.82,200.52 323.07,203.67 326.57,203.67" fill="#a4a4a4" stroke="#707070" stroke-width="0.45"/>
<circle cx="231.62" cy="279.21" r="1.55" fill="#b0b0b0" stroke="#707070" stroke-width="0.45"/>
<circle cx="240.94" cy="279.85" r="1.55" fill="#b0b0b0" stroke="#707070" stroke-width="0.45"/>
<circle cx="250.26" cy="279.21" r="1.55" fill="#b0b0b0" stroke="#707070" stroke-width="0.45"/>
<circle cx="259.58" cy="278.24" r="1.55" fill="#b0b0b0" stroke="#707070" stroke-width="0.45"/>
<circle cx="268.90" cy="270.51" r="1.55" fill="#b0b0b0" stroke="#707070" stroke-width="0.45"/>
<circle cx="278.22" cy="250.87" r="1.55" fill="#b0b0b0" stroke="#707070" stroke-width="0.45"/>
<circle cx="287.54" cy="229.13" r="1.55" fill="#b0b0b0" stroke="#707070" stroke-width="0.45"/>
<circle cx="296.86" cy="211.59" r="1.55" fill="#b0b0b0" stroke="#707070" stroke-width="0.45"/>
<circle cx="306.18" cy="206.11" r="1.55" fill="#b0b0b0" stroke="#707070" stroke-width="0.45"/>
<circle cx="315.50" cy="204.82" r="1.55" fill="#b0b0b0" stroke="#707070" stroke-width="0.45"/>
<circle cx="324.82" cy="193.07" r="1.55" fill="#b0b0b0" stroke="#707070" stroke-width="0.45"/>
<circle cx="226.90" cy="285.48" r="1.75" fill="#111" stroke="#111" stroke-width="0"/>
<circle cx="236.22" cy="286.93" r="1.75" fill="#111" stroke="#111" stroke-width="0"/>
<circle cx="245.54" cy="280.49" r="1.75" fill="#111" stroke="#111" stroke-width="0"/>
<circle cx="254.86" cy="273.41" r="1.75" fill="#111" stroke="#111" stroke-width="0"/>
<circle cx="264.18" cy="265.36" r="1.75" fill="#111" stroke="#111" stroke-width="0"/>
<circle cx="273.50" cy="250.87" r="1.75" fill="#111" stroke="#111" stroke-width="0"/>
<circle cx="282.82" cy="236.70" r="1.75" fill="#111" stroke="#111" stroke-width="0"/>
<circle cx="292.14" cy="216.09" r="1.75" fill="#111" stroke="#111" stroke-width="0"/>
<circle cx="301.46" cy="207.88" r="1.75" fill="#111" stroke="#111" stroke-width="0"/>
<circle cx="310.78" cy="205.31" r="1.75" fill="#111" stroke="#111" stroke-width="0"/>
<circle cx="320.10" cy="194.84" r="1.75" fill="#111" stroke="#111" stroke-width="0"/>
<line x1="218.00" y1="174.93" x2="218.00" y2="291.57" stroke="#111" stroke-width="1.15"/>
<line x1="217.40" y1="287.90" x2="221.00" y2="287.90" stroke="#111" stroke-width="1.15"/>
<text x="216.70" y="289.65" font-size="5.95" text-anchor="end" fill="#111" stroke="#111" stroke-width="0.25">0</text>
<line x1="217.40" y1="255.70" x2="221.00" y2="255.70" stroke="#111" stroke-width="1.15"/>
<text x="216.70" y="257.45" font-size="5.95" text-anchor="end" fill="#111" stroke="#111" stroke-width="0.25">20</text>
<line x1="217.40" y1="223.50" x2="221.00" y2="223.50" stroke="#111" stroke-width="1.15"/>
<text x="216.70" y="225.25" font-size="5.95" text-anchor="end" fill="#111" stroke="#111" stroke-width="0.25">40</text>
<line x1="217.40" y1="191.30" x2="221.00" y2="191.30" stroke="#111" stroke-width="1.15"/>
<text x="216.70" y="193.05" font-size="5.95" text-anchor="end" fill="#111" stroke="#111" stroke-width="0.25">60</text>
<line x1="218.00" y1="271.80" x2="219.30" y2="271.80" stroke="#111" stroke-width="0.9199999999999999"/>
<line x1="218.00" y1="239.60" x2="219.30" y2="239.60" stroke="#111" stroke-width="0.9199999999999999"/>
<line x1="218.00" y1="207.40" x2="219.30" y2="207.40" stroke="#111" stroke-width="0.9199999999999999"/>
<line x1="217.43" y1="291.00" x2="334.88" y2="291.00" stroke="#111" stroke-width="1.15"/>
<line x1="241.50" y1="291.00" x2="241.50" y2="288.00" stroke="#111" stroke-width="1.15"/>
<text x="241.00" y="297.80" font-size="5.95" text-anchor="middle" fill="#111" stroke="#111" stroke-width="0.25">-2</text>
<line x1="272.20" y1="291.00" x2="272.20" y2="288.00" stroke="#111" stroke-width="1.15"/>
<text x="271.70" y="297.80" font-size="5.95" text-anchor="middle" fill="#111" stroke="#111" stroke-width="0.25">0</text>
<line x1="302.90" y1="291.00" x2="302.90" y2="288.00" stroke="#111" stroke-width="1.15"/>
<text x="302.40" y="297.80" font-size="5.95" text-anchor="middle" fill="#111" stroke="#111" stroke-width="0.25">2</text>
<line x1="333.60" y1="291.00" x2="333.60" y2="288.00" stroke="#111" stroke-width="1.15"/>
<text x="333.10" y="297.80" font-size="5.95" text-anchor="middle" fill="#111" stroke="#111" stroke-width="0.25">4</text>
<line x1="226.15" y1="291.00" x2="226.15" y2="289.70" stroke="#111" stroke-width="0.9199999999999999"/>
<line x1="256.85" y1="291.00" x2="256.85" y2="289.70" stroke="#111" stroke-width="0.9199999999999999"/>
<line x1="287.55" y1="291.00" x2="287.55" y2="289.70" stroke="#111" stroke-width="0.9199999999999999"/>
<line x1="318.25" y1="291.00" x2="318.25" y2="289.70" stroke="#111" stroke-width="0.9199999999999999"/>
<line x1="236.80" y1="187.90" x2="244.80" y2="187.90" stroke="#111" stroke-width="1.1"/>
<circle cx="240.80" cy="187.90" r="1.575" fill="#111" stroke="#111" stroke-width="0"/>
<text x="249.80" y="189.80" font-size="5.4" text-anchor="start" fill="#111" stroke="#111" stroke-width="0.25">K1</text>
<line x1="236.80" y1="196.90" x2="244.80" y2="196.90" stroke="#747474" stroke-width="0.95"/>
<circle cx="240.80" cy="196.90" r="1.395" fill="#b0b0b0" stroke="#707070" stroke-width="0.45"/>
<text x="249.80" y="198.80" font-size="5.4" text-anchor="start" fill="#111" stroke="#111" stroke-width="0.25">MK-4</text>
<line x1="236.80" y1="205.60" x2="244.80" y2="205.60" stroke="#555" stroke-width="0.95"/>
<polygon points="240.80,203.90 239.23,206.73 242.38,206.73" fill="#a4a4a4" stroke="#707070" stroke-width="0.45"/>
<text x="249.80" y="207.50" font-size="5.4" text-anchor="start" fill="#111" stroke="#111" stroke-width="0.25">MK-7</text>
<text x="202.00" y="232.90" font-size="6.7" font-weight="normal" text-anchor="middle" fill="#111" stroke="#111" stroke-width="0.2" transform="rotate(-90 202.00 232.90)">Normalized FIXgla-ProT carboxylation</text>
<text x="277.50" y="307.60" font-size="6.3" text-anchor="middle" fill="#111" stroke="#111" stroke-width="0.25">Log [K vitamins, ng/ml]</text>
<polyline points="402.6,282.4 404.8,282.3 407.0,282.3 409.2,282.2 411.4,282.2 413.6,282.1 415.8,282.0 418.0,281.8 420.3,281.7 422.5,281.4 424.7,281.2 426.9,280.9 429.1,280.5 431.3,280.0 433.5,279.4 435.7,278.8 437.9,278.0 440.2,277.2 442.4,276.2 444.6,275.2 446.8,274.1 449.0,273.0 451.2,271.9 453.4,270.8 455.6,269.8 457.9,268.8 460.1,268.0 462.3,267.2 464.5,266.6 466.7,266.0 468.9,265.6 471.1,265.2 473.3,264.9 475.5,264.6 477.8,264.4 480.0,264.3 482.2,264.1 484.4,264.0 486.6,263.9 488.8,263.9 491.0,263.8 493.2,263.8 495.4,263.7 497.7,263.7 499.9,263.7 502.1,263.7 504.3,263.7 506.5,263.6 508.7,263.6" fill="none" stroke="#555" stroke-width="0.95" stroke-linejoin="round"/>
<polyline points="402.6,282.9 404.8,282.9 407.0,282.8 409.2,282.8 411.4,282.8 413.6,282.7 415.8,282.6 418.0,282.5 420.3,282.4 422.5,282.3 424.7,282.1 426.9,281.9 429.1,281.6 431.3,281.3 433.5,280.9 435.7,280.4 437.9,279.8 440.2,279.2 442.4,278.4 444.6,277.6 446.8,276.7 449.0,275.7 451.2,274.7 453.4,273.7 455.6,272.7 457.9,271.8 460.1,270.9 462.3,270.1 464.5,269.4 466.7,268.8 468.9,268.3 471.1,267.8 473.3,267.5 475.5,267.2 477.8,266.9 480.0,266.7 482.2,266.5 484.4,266.4 486.6,266.3 488.8,266.2 491.0,266.2 493.2,266.1 495.4,266.1 497.7,266.0 499.9,266.0 502.1,266.0 504.3,266.0 506.5,266.0 508.7,266.0" fill="none" stroke="#747474" stroke-width="0.95" stroke-linejoin="round"/>
<polyline points="402.6,284.8 404.9,284.7 407.2,284.7 409.5,284.7 411.8,284.7 414.1,284.6 416.4,284.6 418.7,284.5 421.1,284.4 423.4,284.3 425.7,284.2 428.0,284.0 430.3,283.7 432.6,283.4 434.9,283.0 437.2,282.5 439.6,281.8 441.9,281.1 444.2,280.1 446.5,279.0 448.8,277.7 451.1,276.3 453.4,274.8 455.7,273.2 458.1,271.6 460.4,270.1 462.7,268.7 465.0,267.4 467.3,266.3 469.6,265.4 471.9,264.6 474.2,264.0 476.5,263.5 478.9,263.1 481.2,262.8 483.5,262.5 485.8,262.3 488.1,262.2 490.4,262.1 492.7,262.0 495.0,261.9 497.4,261.9 499.7,261.8 502.0,261.8 504.3,261.8 506.6,261.8 508.9,261.7 511.2,261.7 513.5,261.7" fill="none" stroke="#111" stroke-width="1.1" stroke-linejoin="round"/>
<polyline points="402.6,282.7 404.8,282.6 407.0,282.5 409.2,282.4 411.4,282.2 413.6,282.0 415.8,281.7 418.0,281.4 420.3,280.9 422.5,280.4 424.7,279.7 426.9,278.8 429.1,277.7 431.3,276.4 433.5,274.7 435.7,272.7 437.9,270.3 440.2,267.4 442.4,263.9 444.6,260.0 446.8,255.5 449.0,250.5 451.2,245.2 453.4,239.6 455.6,233.9 457.9,228.3 460.1,222.8 462.3,217.7 464.5,213.1 466.7,209.0 468.9,205.4 471.1,202.4 473.3,199.8 475.5,197.6 477.8,195.9 480.0,194.4 482.2,193.3 484.4,192.4 486.6,191.6 488.8,191.0 491.0,190.6 493.2,190.2 495.4,189.9 497.7,189.7 499.9,189.5 502.1,189.3 504.3,189.2 506.5,189.1 508.7,189.1" fill="none" stroke="#111" stroke-width="0.95" stroke-linejoin="round"/>
<polygon points="403.00,282.60 401.25,285.75 404.75,285.75" fill="#a4a4a4" stroke="#707070" stroke-width="0.45"/>
<polygon points="414.70,284.91 412.95,288.06 416.45,288.06" fill="#a4a4a4" stroke="#707070" stroke-width="0.45"/>
<polygon points="472.50,260.52 470.75,263.67 474.25,263.67" fill="#a4a4a4" stroke="#707070" stroke-width="0.45"/>
<polygon points="484.40,268.85 482.65,272.00 486.15,272.00" fill="#a4a4a4" stroke="#707070" stroke-width="0.45"/>
<rect x="402.00" y="279.28" width="2.8" height="2.8" fill="#b0b0b0" stroke="#707070" stroke-width="0.45"/>
<rect x="424.80" y="284.90" width="2.8" height="2.8" fill="#b0b0b0" stroke="#707070" stroke-width="0.45"/>
<rect x="448.10" y="275.16" width="2.8" height="2.8" fill="#b0b0b0" stroke="#707070" stroke-width="0.45"/>
<rect x="460.10" y="270.85" width="2.8" height="2.8" fill="#b0b0b0" stroke="#707070" stroke-width="0.45"/>
<rect x="493.80" y="268.54" width="2.8" height="2.8" fill="#b0b0b0" stroke="#707070" stroke-width="0.45"/>
<rect x="506.40" y="263.52" width="2.8" height="2.8" fill="#b0b0b0" stroke="#707070" stroke-width="0.45"/>
<circle cx="408.70" cy="285.40" r="1.75" fill="#111" stroke="#111" stroke-width="0"/>
<circle cx="420.34" cy="285.40" r="1.75" fill="#111" stroke="#111" stroke-width="0"/>
<circle cx="431.98" cy="285.40" r="1.75" fill="#111" stroke="#111" stroke-width="0"/>
<circle cx="443.62" cy="283.89" r="1.75" fill="#111" stroke="#111" stroke-width="0"/>
<circle cx="455.26" cy="276.56" r="1.75" fill="#111" stroke="#111" stroke-width="0"/>
<circle cx="466.90" cy="266.72" r="1.75" fill="#111" stroke="#111" stroke-width="0"/>
<circle cx="478.54" cy="263.41" r="1.75" fill="#111" stroke="#111" stroke-width="0"/>
<circle cx="490.18" cy="269.84" r="1.75" fill="#111" stroke="#111" stroke-width="0"/>
<circle cx="501.82" cy="258.19" r="1.75" fill="#111" stroke="#111" stroke-width="0"/>
<circle cx="513.46" cy="261.60" r="1.75" fill="#111" stroke="#111" stroke-width="0"/>
<circle cx="414.70" cy="282.59" r="1.5" fill="#111" stroke="none" stroke-width="0"/>
<circle cx="426.20" cy="282.08" r="1.5" fill="#111" stroke="none" stroke-width="0"/>
<circle cx="438.00" cy="270.74" r="1.5" fill="#111" stroke="none" stroke-width="0"/>
<circle cx="449.20" cy="247.85" r="1.5" fill="#111" stroke="none" stroke-width="0"/>
<circle cx="461.10" cy="222.55" r="1.5" fill="#111" stroke="none" stroke-width="0"/>
<circle cx="484.30" cy="191.02" r="1.5" fill="#111" stroke="none" stroke-width="0"/>
<circle cx="507.60" cy="189.21" r="1.5" fill="#111" stroke="none" stroke-width="0"/>
<line x1="401.60" y1="174.93" x2="401.60" y2="291.68" stroke="#111" stroke-width="1.15"/>
<line x1="401.00" y1="286.00" x2="404.60" y2="286.00" stroke="#111" stroke-width="1.15"/>
<text x="400.30" y="287.75" font-size="5.95" text-anchor="end" fill="#111" stroke="#111" stroke-width="0.25">0</text>
<line x1="401.00" y1="265.92" x2="404.60" y2="265.92" stroke="#111" stroke-width="1.15"/>
<text x="400.30" y="267.67" font-size="5.95" text-anchor="end" fill="#111" stroke="#111" stroke-width="0.25">20</text>
<line x1="401.00" y1="245.84" x2="404.60" y2="245.84" stroke="#111" stroke-width="1.15"/>
<text x="400.30" y="247.59" font-size="5.95" text-anchor="end" fill="#111" stroke="#111" stroke-width="0.25">40</text>
<line x1="401.00" y1="225.76" x2="404.60" y2="225.76" stroke="#111" stroke-width="1.15"/>
<text x="400.30" y="227.51" font-size="5.95" text-anchor="end" fill="#111" stroke="#111" stroke-width="0.25">60</text>
<line x1="401.00" y1="205.68" x2="404.60" y2="205.68" stroke="#111" stroke-width="1.15"/>
<text x="400.30" y="207.43" font-size="5.95" text-anchor="end" fill="#111" stroke="#111" stroke-width="0.25">80</text>
<line x1="401.00" y1="185.60" x2="404.60" y2="185.60" stroke="#111" stroke-width="1.15"/>
<text x="400.30" y="187.35" font-size="5.95" text-anchor="end" fill="#111" stroke="#111" stroke-width="0.25">100</text>
<line x1="401.60" y1="275.96" x2="402.90" y2="275.96" stroke="#111" stroke-width="0.9199999999999999"/>
<line x1="401.60" y1="255.88" x2="402.90" y2="255.88" stroke="#111" stroke-width="0.9199999999999999"/>
<line x1="401.60" y1="235.80" x2="402.90" y2="235.80" stroke="#111" stroke-width="0.9199999999999999"/>
<line x1="401.60" y1="215.72" x2="402.90" y2="215.72" stroke="#111" stroke-width="0.9199999999999999"/>
<line x1="401.60" y1="195.64" x2="402.90" y2="195.64" stroke="#111" stroke-width="0.9199999999999999"/>
<line x1="401.03" y1="291.10" x2="518.18" y2="291.10" stroke="#111" stroke-width="1.15"/>
<line x1="420.90" y1="291.10" x2="420.90" y2="288.10" stroke="#111" stroke-width="1.15"/>
<text x="420.40" y="297.90" font-size="5.95" text-anchor="middle" fill="#111" stroke="#111" stroke-width="0.25">-2</text>
<line x1="459.50" y1="291.10" x2="459.50" y2="288.10" stroke="#111" stroke-width="1.15"/>
<text x="459.00" y="297.90" font-size="5.95" text-anchor="middle" fill="#111" stroke="#111" stroke-width="0.25">0</text>
<line x1="498.10" y1="291.10" x2="498.10" y2="288.10" stroke="#111" stroke-width="1.15"/>
<text x="497.60" y="297.90" font-size="5.95" text-anchor="middle" fill="#111" stroke="#111" stroke-width="0.25">2</text>
<line x1="401.60" y1="291.10" x2="401.60" y2="289.80" stroke="#111" stroke-width="0.9199999999999999"/>
<line x1="440.20" y1="291.10" x2="440.20" y2="289.80" stroke="#111" stroke-width="0.9199999999999999"/>
<line x1="478.80" y1="291.10" x2="478.80" y2="289.80" stroke="#111" stroke-width="0.9199999999999999"/>
<line x1="517.40" y1="291.10" x2="517.40" y2="289.80" stroke="#111" stroke-width="0.9199999999999999"/>
<line x1="414.50" y1="184.50" x2="422.50" y2="184.50" stroke="#111" stroke-width="0.95"/>
<circle cx="418.50" cy="184.50" r="1.35" fill="#111" stroke="none" stroke-width="0"/>
<text x="427.20" y="186.40" font-size="5.3" text-anchor="start" fill="#111" stroke="#111" stroke-width="0.25">GGCX-K1</text>
<line x1="414.50" y1="193.70" x2="422.50" y2="193.70" stroke="#111" stroke-width="1.1"/>
<circle cx="418.50" cy="193.70" r="1.575" fill="#111" stroke="#111" stroke-width="0"/>
<text x="427.20" y="195.60" font-size="5.3" text-anchor="start" fill="#111" stroke="#111" stroke-width="0.25">K1</text>
<line x1="414.50" y1="202.70" x2="422.50" y2="202.70" stroke="#747474" stroke-width="0.95"/>
<rect x="417.24" y="201.44" width="2.52" height="2.52" fill="#b0b0b0" stroke="#707070" stroke-width="0.45"/>
<text x="427.20" y="204.60" font-size="5.3" text-anchor="start" fill="#111" stroke="#111" stroke-width="0.25">MK-4</text>
<line x1="414.50" y1="209.40" x2="422.50" y2="209.40" stroke="#555" stroke-width="0.95"/>
<polygon points="418.50,207.70 416.93,210.53 420.07,210.53" fill="#a4a4a4" stroke="#707070" stroke-width="0.45"/>
<text x="427.20" y="211.30" font-size="5.3" text-anchor="start" fill="#111" stroke="#111" stroke-width="0.25">MK-7</text>
<text x="385.80" y="232.00" font-size="6.7" font-weight="normal" text-anchor="middle" fill="#111" stroke="#111" stroke-width="0.2" transform="rotate(-90 385.80 232.00)">Normalized MGP carboxylation</text>
<text x="459.50" y="307.60" font-size="6.3" text-anchor="middle" fill="#111" stroke="#111" stroke-width="0.25">Log [K vitamins, ng/ml]</text>
</svg>
</body></html>
